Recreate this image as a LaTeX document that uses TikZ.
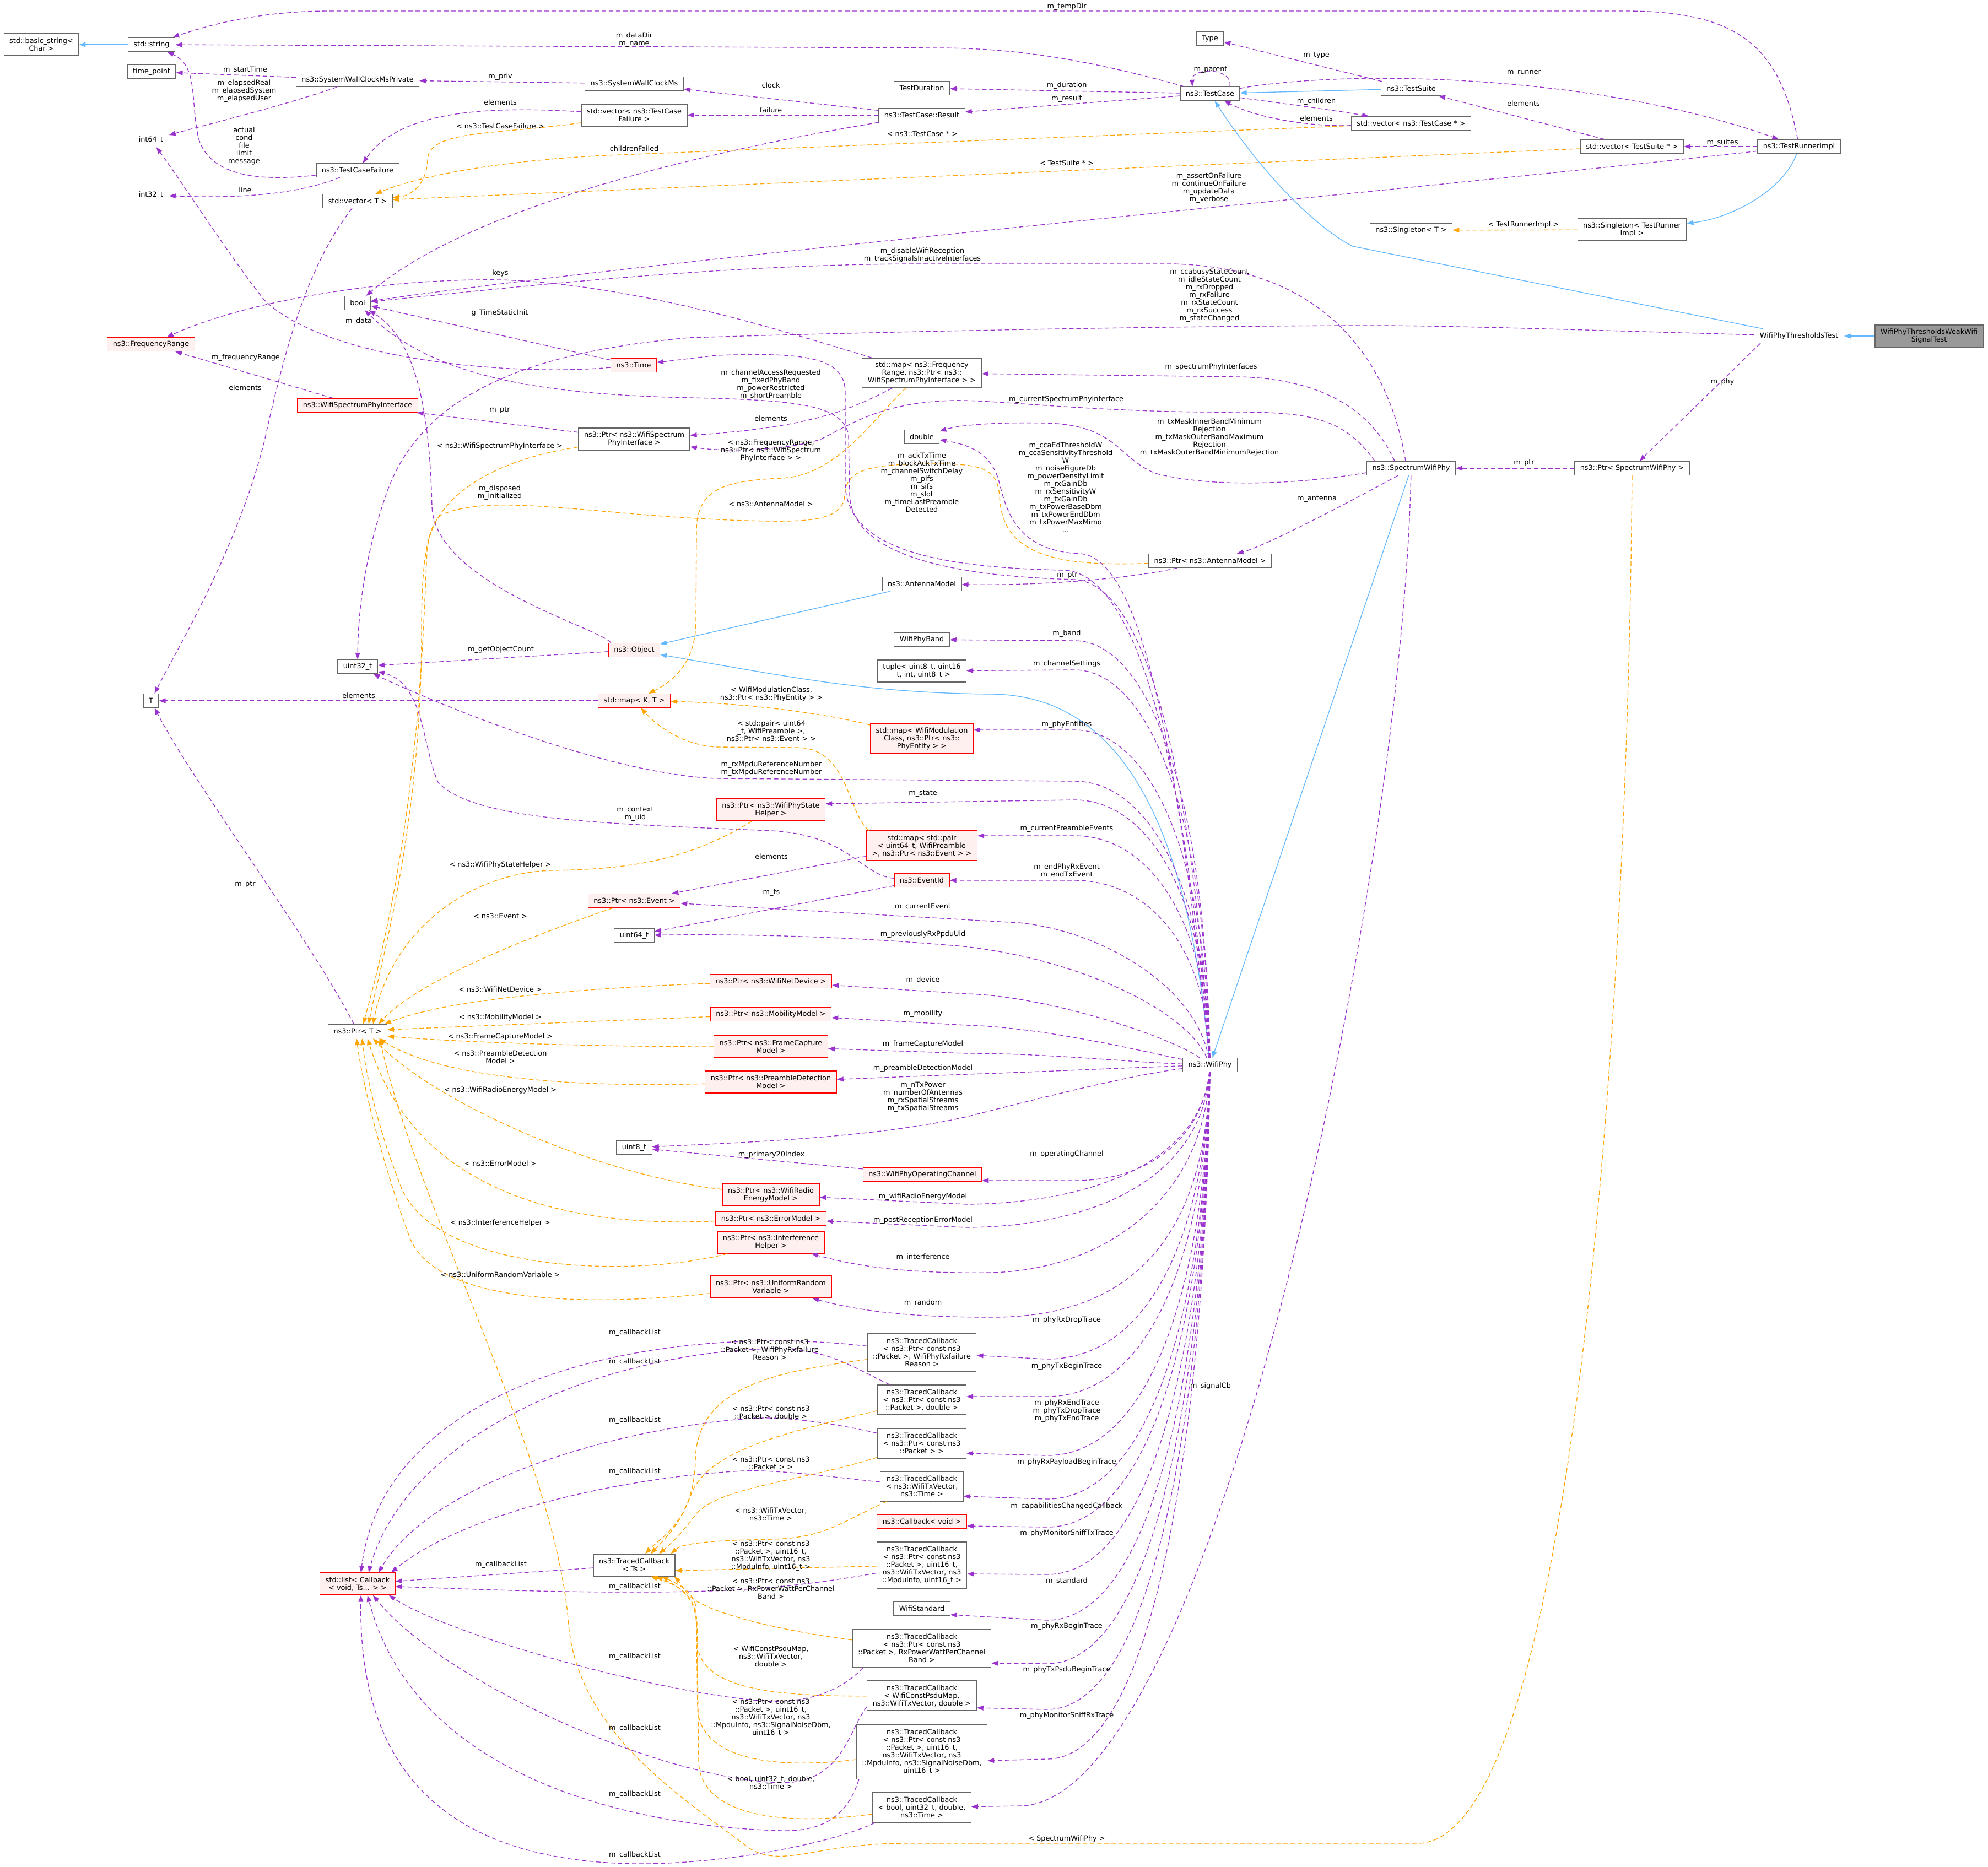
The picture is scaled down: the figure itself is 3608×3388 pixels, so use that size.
\documentclass[tikz,border=0pt]{standalone}
\usepackage{fontspec}
\setmainfont{DejaVu Sans}
\usetikzlibrary{arrows.meta,calc}
\definecolor{purp}{HTML}{9A32CD}
\definecolor{orng}{HTML}{FFA500}
\definecolor{blu}{HTML}{63B8FF}
\definecolor{boxgray}{HTML}{666666}
\definecolor{redfill}{HTML}{FFF0F0}
\definecolor{grayfill}{HTML}{999999}
\newcommand\dfnt{\fontsize{9.6}{10.5}\selectfont}
\tikzset{
  box/.style={draw=boxgray, fill=white, line width=0.9pt, inner xsep=7.5pt, inner ysep=0pt, font=\dfnt, align=center, minimum height=18.75pt},
  redbox/.style={box, draw=red, fill=redfill},
  graybox/.style={box, fill=grayfill},
  h2/.style={minimum height=30pt},
  h3/.style={minimum height=40.5pt},
  h4/.style={minimum height=51.75pt},
  h5/.style={minimum height=63pt},
  h6/.style={minimum height=74.25pt},
  mem/.style={draw=purp, line width=1pt, dash pattern=on 6pt off 3.75pt, -{Triangle[length=9pt,width=6.5pt]}},
  tmpl/.style={draw=orng, line width=1pt, dash pattern=on 6pt off 3.75pt, -{Triangle[length=9pt,width=6.5pt]}},
  inh/.style={draw=blu, line width=1pt, -{Triangle[length=9pt,width=6.5pt]}},
  lab/.style={font=\dfnt, align=center, inner sep=0pt, text=black},
}
\begin{document}
\begin{tikzpicture}[x=0.75pt,y=-0.75pt]
\fill[white] (0,0) rectangle (3608,3388);
\useasboundingbox (0,0) rectangle (3608,3388);

% ---------------- nodes ----------------
\node[box,h2] (basicstring) at (75,81) {std::basic\_string<\\Char >};
\node[box] (stdstring) at (275,81) {std::string};
\node[box] (timepoint) at (275,130) {time\_point};
\node[box] (int64) at (274,254) {int64\_t};
\node[box] (int32) at (274,354) {int32\_t};
\node[redbox] (freqrange) at (274,625) {ns3::FrequencyRange};
\node[box] (T) at (274,1272) {T};
\node[box] (syswallpriv) at (649,145) {ns3::SystemWallClockMsPrivate};
\node[box] (tcfailure) at (649,309) {ns3::TestCaseFailure};
\node[box] (vectorT) at (649,365) {std::vector< T >};
\node[box] (bool) at (649,550) {bool};
\node[redbox] (wifispecphyif) at (649,736) {ns3::WifiSpectrumPhyInterface};
\node[box] (uint32) at (649,1210) {uint32\_t};
\node[box] (ptrT) at (649,1872) {ns3::Ptr< T >};
\node[redbox,h2] (stdlist) at (649,2875) {std::list< Callback\\< void, Ts... > >};
\node[box] (syswall) at (1151,152) {ns3::SystemWallClockMs};
\node[box,h2] (vecfailure) at (1151,209) {std::vector< ns3::TestCase\\Failure >};
\node[redbox] (time) at (1150,663) {ns3::Time};
\node[box,h2] (ptrwifispecif) at (1151,797) {ns3::Ptr< ns3::WifiSpectrum\\PhyInterface >};
\node[redbox] (object) at (1151,1180) {ns3::Object};
\node[redbox] (mapKT) at (1151,1272) {std::map< K, T >};
\node[redbox] (ptrevent) at (1151,1635) {ns3::Ptr< ns3::Event >};
\node[box] (uint64) at (1151,1698) {uint64\_t};
\node[box] (uint8) at (1151,2083) {uint8\_t};
\node[box,h2] (tcTs) at (1151,2841) {ns3::TracedCallback\\< Ts >};
\node[redbox,h2] (ptrstatehelper) at (1399,1470) {ns3::Ptr< ns3::WifiPhyState\\Helper >};
\node[redbox] (ptrnetdevice) at (1399,1781) {ns3::Ptr< ns3::WifiNetDevice >};
\node[redbox] (ptrmobility) at (1399,1841) {ns3::Ptr< ns3::MobilityModel >};
\node[redbox,h2] (ptrframecap) at (1399,1900) {ns3::Ptr< ns3::FrameCapture\\Model >};
\node[redbox,h2] (ptrpreamble) at (1399,1964) {ns3::Ptr< ns3::PreambleDetection\\Model >};
\node[redbox,h2] (ptrenergy) at (1399,2169) {ns3::Ptr< ns3::WifiRadio\\EnergyModel >};
\node[redbox] (ptrerror) at (1399,2212) {ns3::Ptr< ns3::ErrorModel >};
\node[redbox,h2] (ptrinterf) at (1399,2255) {ns3::Ptr< ns3::Interference\\Helper >};
\node[redbox,h2] (ptrrandom) at (1399,2336) {ns3::Ptr< ns3::UniformRandom\\Variable >};
\node[box] (testduration) at (1673,160) {TestDuration};
\node[box] (tcresult) at (1673,209) {ns3::TestCase::Result};
\node[box,h3] (mapfreq) at (1673,677) {std::map< ns3::Frequency\\Range, ns3::Ptr< ns3::\\WifiSpectrumPhyInterface > >};
\node[box] (double) at (1673,793) {double};
\node[box] (antennamodel) at (1673,1060) {ns3::AntennaModel};
\node[box] (wifiphyband) at (1673,1161) {WifiPhyBand};
\node[box,h2] (tuple) at (1673,1218) {tuple< uint8\_t, uint16\\\_t, int, uint8\_t >};
\node[redbox,h3] (mapmod) at (1673,1341) {std::map< WifiModulation\\Class, ns3::Ptr< ns3::\\PhyEntity > >};
\node[redbox,h3] (mappair) at (1673,1535) {std::map< std::pair\\< uint64\_t, WifiPreamble\\ >, ns3::Ptr< ns3::Event > >};
\node[redbox] (eventid) at (1673,1598) {ns3::EventId};
\node[redbox] (operchannel) at (1674,2132) {ns3::WifiPhyOperatingChannel};
\node[box,h4] (tcrxfail) at (1673,2455) {ns3::TracedCallback\\< ns3::Ptr< const ns3\\::Packet >, WifiPhyRxfailure\\Reason >};
\node[box,h3] (tcdouble) at (1673,2541) {ns3::TracedCallback\\< ns3::Ptr< const ns3\\::Packet >, double >};
\node[box,h3] (tcpacket) at (1673,2620) {ns3::TracedCallback\\< ns3::Ptr< const ns3\\::Packet > >};
\node[box,h3] (tctxvec) at (1673,2698) {ns3::TracedCallback\\< ns3::WifiTxVector,\\ns3::Time >};
\node[redbox] (cbvoid) at (1673,2762) {ns3::Callback< void >};
\node[box,h5] (tcmpdu) at (1673,2841) {ns3::TracedCallback\\< ns3::Ptr< const ns3\\::Packet >, uint16\_t,\\ns3::WifiTxVector, ns3\\::MpduInfo, uint16\_t >};
\node[box] (wifistandard) at (1673,2920) {WifiStandard};
\node[box,h4] (tcrxpower) at (1673,2992) {ns3::TracedCallback\\< ns3::Ptr< const ns3\\::Packet >, RxPowerWattPerChannel\\Band >};
\node[box,h3] (tcpsdu) at (1673,3078) {ns3::TracedCallback\\< WifiConstPsduMap,\\ns3::WifiTxVector, double >};
\node[box,h6] (tcsnr) at (1673,3180) {ns3::TracedCallback\\< ns3::Ptr< const ns3\\::Packet >, uint16\_t,\\ns3::WifiTxVector, ns3\\::MpduInfo, ns3::SignalNoiseDbm,\\uint16\_t >};
\node[box,h3] (tcbool) at (1673,3281) {ns3::TracedCallback\\< bool, uint32\_t, double,\\ns3::Time >};
\node[box] (type) at (2196,70) {Type};
\node[box] (testcase) at (2196,170) {ns3::TestCase};
\node[box] (ptrantenna) at (2196,1018) {ns3::Ptr< ns3::AntennaModel >};
\node[box] (wifiphy) at (2196,1933) {ns3::WifiPhy};
\node[box] (testsuite) at (2561,161) {ns3::TestSuite};
\node[box] (vectc) at (2561,224) {std::vector< ns3::TestCase * >};
\node[box] (singletonT) at (2561,418) {ns3::Singleton< T >};
\node[box] (spectrumwifiphy) at (2561,850) {ns3::SpectrumWifiPhy};
\node[box] (vecsuite) at (2962,266) {std::vector< TestSuite * >};
\node[box,h2] (singletonTR) at (2962,417) {ns3::Singleton< TestRunner\\Impl >};
\node[box] (ptrspectrum) at (2962,850) {ns3::Ptr< SpectrumWifiPhy >};
\node[box] (testrunner) at (3265,266) {ns3::TestRunnerImpl};
\node[box] (thresholdtest) at (3265,610) {WifiPhyThresholdsTest};
\node[graybox,h2] (weaktest) at (3501,610) {WifiPhyThresholdsWeakWifi\\SignalTest};

% ---------------- top area edges ----------------
\draw[inh] (stdstring) -- (basicstring);
\draw[mem] (testrunner) .. controls (3230,80) and (3150,20) .. (2950,20) -- (600,20) .. controls (470,20) and (380,45) .. (stdstring);
\draw[mem] (testcase) .. controls (1980,110) and (1850,87) .. (1700,87) -- (stdstring);
\draw[mem] (syswallpriv) -- (timepoint);
\draw[mem] (syswallpriv) .. controls (520,190) and (380,225) .. (int64);
\draw[mem] (syswall) -- (syswallpriv);
\draw[mem] (tcfailure) .. controls (470,330) and (380,320) .. (360,250) .. controls (345,180) and (360,120) .. (stdstring);
\draw[mem] (tcfailure) .. controls (560,345) and (470,362) .. (int32);
\draw[mem] (vecfailure) .. controls (850,190) and (720,210) .. (tcfailure);
\draw[tmpl] (vecfailure) .. controls (900,245) and (778,235) .. (776,290) .. controls (775,330) and (750,355) .. (vectorT);
\draw[tmpl] (vectc) -- (1100,282) .. controls (900,292) and (760,320) .. (vectorT);
\draw[tmpl] (vecsuite) -- (vectorT);
\draw[mem] (vectorT) .. controls (560,480) and (520,620) .. (480,800) .. controls (430,1000) and (320,1180) .. (T);
\draw[mem] (tcresult) -- (syswall);
\draw[mem] (tcresult) -- (vecfailure);
\draw[mem] (tcresult) .. controls (1250,280) and (850,380) .. (bool);
\draw[mem] (testcase) -- (testduration);
\draw[mem] (testcase) -- (tcresult);
\draw[mem] ($(testcase.north)+(36,0)$) .. controls (2238,122) and (2162,122) .. ($(testcase.north)+(-32,0)$);
\draw[mem] (testsuite) -- (type);
\draw[inh] (testsuite) -- (testcase);
\draw[mem] (testcase) .. controls (2330,188) and (2420,200) .. (vectc);
\draw[mem] (vectc) .. controls (2390,230) and (2290,218) .. (testcase);
\draw[mem] (testcase) .. controls (2450,125) and (2900,135) .. (testrunner);
\draw[mem] (vecsuite) -- (testsuite);
\draw[mem] (testrunner) -- (vecsuite);
\draw[mem] (testrunner) .. controls (2500,350) and (1200,470) .. (bool);
\draw[inh] (testrunner) .. controls (3240,340) and (3150,395) .. (singletonTR);
\draw[tmpl] (singletonTR) -- (singletonT);
\draw[inh] (thresholdtest) -- (2455,447) .. controls (2400,420) and (2300,330) .. (testcase);
\draw[inh] (weaktest) -- (thresholdtest);
\draw[mem] (thresholdtest) .. controls (2800,597) and (2600,590) .. (2450,591) .. controls (2000,593) and (1500,605) .. (1250,613) .. controls (950,640) and (760,720) .. (700,900) .. controls (665,1000) and (650,1100) .. (uint32);
\draw[mem] ($(thresholdtest.south)+(-70,0)$) -- (ptrspectrum);
\draw[mem] (ptrspectrum) -- (spectrumwifiphy);
\draw[tmpl] (ptrspectrum) .. controls (2955,1800) and (2860,3346) .. (2572,3346) -- (1643,3346) .. controls (1480,3346) and (1420,3392) .. (1360,3355) .. controls (1250,3270) and (1050,3150) .. (1032,2950) .. controls (1010,2650) and (760,2200) .. ($(ptrT.south)+(40,0)$);

% ---------------- SpectrumWifiPhy ----------------
\draw[inh] (spectrumwifiphy) -- (wifiphy);
\draw[mem] ($(spectrumwifiphy.north)+(-30,0)$) .. controls (2490,745) and (2400,688) .. (2250,684) -- (mapfreq);
\draw[mem] ($(spectrumwifiphy.west)+(0,8)$) .. controls (2350,880) and (2200,885) .. (2100,860) .. controls (2030,835) and (2030,772) .. (1900,768) .. controls (1800,766) and (1740,772) .. (double);
\draw[mem] ($(spectrumwifiphy.north west)+(15,0)$) .. controls (2440,760) and (2380,748) .. (2245,748) .. controls (2000,750) and (1800,725) .. (1731,727) .. controls (1600,730) and (1545,770) .. (1490,797) .. controls (1440,815) and (1330,822) .. (ptrwifispecif);
\draw[mem] (spectrumwifiphy) .. controls (2470,900) and (2300,990) .. (ptrantenna);
\draw[mem] ($(spectrumwifiphy.north)+(-10,0)$) .. controls (2520,650) and (2400,485) .. (2128,479) -- (1672,479) .. controls (1300,479) and (900,525) .. (bool);
\draw[mem] (spectrumwifiphy) .. controls (2545,1600) and (2200,3278) .. (1850,3278) -- (tcbool);

% ---------------- antenna / object ----------------
\draw[mem] (ptrantenna) .. controls (2050,1050) and (1900,1063) .. (antennamodel);
\draw[tmpl] (ptrantenna) .. controls (1900,1030) and (1818,1000) .. (1814,900) .. controls (1810,850) and (1780,842) .. (1700,842) .. controls (1580,842) and (1535,850) .. (1533,900) .. controls (1530,940) and (1480,947) .. (1400,946) .. controls (1100,942) and (900,890) .. (800,935) .. controls (770,960) and (765,1050) .. (765,1150) .. controls (765,1500) and (690,1750) .. ($(ptrT.north)+(20,0)$);
\draw[inh] (antennamodel) -- (object);
\draw[inh] (wifiphy) .. controls (2160,1550) and (2060,1262) .. (1800,1260) .. controls (1580,1258) and (1450,1232) .. (object);
\draw[mem] (wifiphy) .. controls (2170,1500) and (2100,1062) .. (1950,1052) .. controls (1700,1045) and (1548,1000) .. (1542,900) -- (1540,790) .. controls (1530,735) and (1450,726) .. (1250,722) .. controls (1000,716) and (790,690) .. (bool);
\draw[mem] (wifiphy) .. controls (2160,1500) and (2085,1040) .. (1930,1035) .. controls (1680,1030) and (1538,990) .. (1534,880) -- (1534,710) .. controls (1532,645) and (1450,640) .. (1300,645) -- (time);
\draw[mem] (wifiphy) .. controls (2150,1500) and (2090,1012) .. (1960,1005) .. controls (1840,1000) and (1825,920) .. (1812,870) .. controls (1795,815) and (1745,805) .. (double);

% ---------------- maps / ptrs ----------------
\draw[mem] (mapfreq) .. controls (1420,600) and (1150,515) .. (908,508) .. controls (700,505) and (450,545) .. (freqrange);
\draw[mem] (mapfreq) .. controls (1550,740) and (1480,775) .. (ptrwifispecif);
\draw[tmpl] (mapfreq) .. controls (1585,760) and (1520,862) .. (1420,868) .. controls (1320,872) and (1266,885) .. (1264,960) -- (1263,1130) .. controls (1262,1200) and (1225,1235) .. (mapKT);
\draw[mem] (ptrwifispecif) -- (wifispecphyif);
\draw[tmpl] (ptrwifispecif) .. controls (920,830) and (785,890) .. (775,1000) .. controls (768,1150) and (760,1500) .. ($(ptrT.north)+(10,0)$);
\draw[mem] (wifispecphyif) -- (freqrange);
\draw[mem] (time) -- (bool);
\draw[mem] (time) .. controls (950,682) and (600,660) .. (480,545) .. controls (420,470) and (330,330) .. (int64);
\draw[mem] (object) -- (uint32);
\draw[mem] ($(object.north west)+(5,0)$) .. controls (1090,1140) and (790,1060) .. (784,920) .. controls (780,760) and (760,620) .. (bool);
\draw[mem] (mapKT) -- (T);
\draw[tmpl] (mapmod) .. controls (1500,1295) and (1350,1276) .. (mapKT);
\draw[tmpl] ($(mappair.north west)+(5,0)$) .. controls (1540,1480) and (1540,1360) .. (1450,1357) -- (1300,1356) .. controls (1240,1352) and (1195,1320) .. (mapKT);
\draw[mem] (mappair) -- (ptrevent);
\draw[mem] (eventid) .. controls (1565,1590) and (1540,1515) .. (1400,1508) .. controls (1100,1495) and (860,1490) .. (795,1420) .. controls (765,1350) and (770,1240) .. (uint32);
\draw[mem] (eventid) -- (uint64);
\draw[mem] (ptrT) .. controls (560,1700) and (350,1420) .. (T);
\draw[tmpl] (ptrstatehelper) .. controls (1250,1560) and (1150,1578) .. (1000,1580) .. controls (850,1585) and (710,1690) .. ($(ptrT.north)+(28,0)$);
\draw[tmpl] (ptrevent) .. controls (960,1700) and (760,1780) .. ($(ptrT.north)+(38,0)$);
\draw[tmpl] (ptrnetdevice) .. controls (1100,1792) and (820,1810) .. ($(ptrT.north east)+(-5,0)$);
\draw[tmpl] (ptrmobility) -- ($(ptrT.east)+(0,-3)$);
\draw[tmpl] (ptrframecap) .. controls (1100,1900) and (850,1893) .. ($(ptrT.east)+(0,9)$);
\draw[tmpl] (ptrpreamble) .. controls (1000,1975) and (790,1950) .. ($(ptrT.south east)+(-15,0)$);
\draw[tmpl] (ptrenergy) .. controls (1100,2135) and (800,2010) .. ($(ptrT.south)+(28,0)$);
\draw[tmpl] (ptrerror) .. controls (1000,2230) and (750,2150) .. ($(ptrT.south)+(18,0)$);
\draw[tmpl] (ptrinterf) .. controls (1150,2320) and (800,2310) .. (730,2160) .. controls (690,2060) and (665,1960) .. ($(ptrT.south)+(8,0)$);
\draw[tmpl] (ptrrandom) .. controls (1100,2368) and (800,2375) .. (745,2250) .. controls (700,2130) and (660,1980) .. ($(ptrT.south)+(-2,0)$);
\draw[mem] (operchannel) -- (uint8);

% ---------------- traced callbacks ----------------
\draw[mem] (tcrxfail) .. controls (1200,2400) and (700,2500) .. ($(stdlist.north)+(6,0)$);
\draw[mem] (tcdouble) .. controls (1540,2478) and (1500,2447) .. (1400,2448) .. controls (1100,2455) and (740,2600) .. ($(stdlist.north)+(20,0)$);
\draw[mem] (tcpacket) .. controls (1520,2585) and (1420,2568) .. (1348,2576) .. controls (1150,2590) and (790,2680) .. ($(stdlist.north)+(38,0)$);
\draw[mem] (tctxvec) .. controls (1500,2680) and (1420,2668) .. (1348,2670) .. controls (1150,2680) and (850,2740) .. ($(stdlist.north east)+(-8,0)$);
\draw[mem] (tcTs) -- (stdlist);
\draw[mem] (tcmpdu) .. controls (1450,2880) and (1350,2890) .. (1152,2890) .. controls (950,2890) and (800,2882) .. ($(stdlist.east)+(0,5)$);
\draw[mem] ($(tcrxpower.south west)+(20,0)$) .. controls (1520,3075) and (1460,3090) .. (1393,3088) .. controls (1200,3075) and (820,2970) .. ($(stdlist.south east)+(-12,0)$);
\draw[mem] ($(tcpsdu.west)+(0,20)$) .. controls (1540,3140) and (1530,3235) .. (1420,3236) .. controls (1200,3232) and (800,3050) .. ($(stdlist.south)+(28,0)$);
\draw[mem] ($(tcsnr.south west)+(5,0)$) .. controls (1540,3290) and (1500,3325) .. (1420,3323) .. controls (1200,3318) and (760,3250) .. ($(stdlist.south)+(18,0)$);
\draw[mem] ($(tcbool.south west)+(5,0)$) .. controls (1500,3350) and (1300,3385) .. (1150,3383) .. controls (850,3378) and (650,3250) .. ($(stdlist.south)+(6,0)$);

\draw[tmpl] (tcrxfail) .. controls (1400,2490) and (1265,2520) .. (1262,2650) .. controls (1260,2760) and (1200,2790) .. ($(tcTs.north)+(20,0)$);
\draw[tmpl] (tcdouble) .. controls (1430,2600) and (1290,2630) .. (1255,2710) .. controls (1235,2770) and (1200,2800) .. ($(tcTs.north)+(30,0)$);
\draw[tmpl] (tcpacket) .. controls (1450,2690) and (1300,2700) .. (1262,2750) .. controls (1240,2780) and (1220,2800) .. ($(tcTs.north)+(45,0)$);
\draw[tmpl] (tctxvec) .. controls (1530,2760) and (1500,2792) .. (1400,2794) .. controls (1300,2796) and (1240,2800) .. ($(tcTs.north east)+(-8,0)$);
\draw[tmpl] (tcmpdu) -- ($(tcTs.east)+(0,10)$);
\draw[tmpl] (tcrxpower) .. controls (1450,2965) and (1300,2935) .. (1255,2900) .. controls (1240,2885) and (1232,2870) .. ($(tcTs.south east)+(-2,0)$);
\draw[tmpl] (tcpsdu) .. controls (1350,3080) and (1268,3050) .. (1265,2980) -- (1263,2920) .. controls (1262,2890) and (1230,2875) .. ($(tcTs.south)+(50,0)$);
\draw[tmpl] (tcsnr) .. controls (1350,3218) and (1268,3170) .. (1266,3100) -- (1264,2950) .. controls (1263,2900) and (1235,2880) .. ($(tcTs.south)+(40,0)$);
\draw[tmpl] (tcbool) .. controls (1380,3320) and (1272,3280) .. (1268,3200) -- (1265,2950) .. controls (1264,2900) and (1240,2880) .. ($(tcTs.south)+(30,0)$);

% ---------------- WifiPhy members (upper) ----------------
\draw[mem] (wifiphy) .. controls (2188,1428) and (2080,1163) .. (1950,1163) -- (wifiphyband);
\draw[mem] (wifiphy) .. controls (2188,1462) and (2080,1216) .. (1950,1216) -- (tuple);
\draw[mem] (wifiphy) .. controls (2188,1533) and (2080,1325) .. (1950,1325) -- ($(mapmod.east)+(0,-16)$);
\draw[mem] (wifiphy) .. controls (2188,1600) and (2080,1418) .. (1950,1418) -- (1300,1413) .. controls (1100,1405) and (800,1280) .. (uint32);
\draw[mem] (wifiphy) .. controls (2188,1616) and (2080,1452) .. (1950,1452) -- ($(ptrstatehelper.east)+(0,-11)$);
\draw[mem] (wifiphy) .. controls (2188,1658) and (2080,1517) .. (1950,1517) -- ($(mappair.east)+(0,-18)$);
\draw[mem] (wifiphy) .. controls (2188,1711) and (2080,1598) .. (1950,1598) -- (eventid);
\draw[mem] (wifiphy) .. controls (2170,1790) and (2000,1690) .. (1850,1675) -- (ptrevent);
\draw[mem] (wifiphy) .. controls (2150,1830) and (1950,1740) .. (1750,1718) .. controls (1550,1700) and (1350,1695) .. (uint64);
\draw[mem] (wifiphy) .. controls (2120,1880) and (1900,1808) .. (1755,1804) -- (ptrnetdevice);
\draw[mem] (wifiphy) .. controls (2090,1912) and (1900,1865) .. (1755,1861) -- (ptrmobility);
\draw[mem] (wifiphy) .. controls (2050,1928) and (1900,1912) .. (1755,1912) -- (ptrframecap);
\draw[mem] (wifiphy) .. controls (2000,1940) and (1850,1947) .. (1755,1950) -- (ptrpreamble);
\draw[mem] (wifiphy) .. controls (2050,1952) and (1900,1990) .. (1755,2027) .. controls (1600,2062) and (1400,2072) .. (uint8);

% ---------------- WifiPhy members (lower) ----------------
\draw[mem] (wifiphy) .. controls (2185,2050) and (2100,2143) .. (1950,2143) -- ($(operchannel.east)+(0,11)$);
\draw[mem] (wifiphy) .. controls (2180,2100) and (2000,2183) .. (1755,2186) -- (ptrenergy);
\draw[mem] (wifiphy) .. controls (2182,2130) and (2000,2226) .. (1755,2228) -- (ptrerror);
\draw[mem] (wifiphy) .. controls (2185,2180) and (2000,2305) .. (1800,2310) .. controls (1650,2312) and (1560,2300) .. (ptrinterf);
\draw[mem] (wifiphy) .. controls (2188,2250) and (2050,2391) .. (1800,2391) .. controls (1650,2391) and (1560,2380) .. (ptrrandom);
\draw[mem] (wifiphy) .. controls (2188,2206) and (2100,2467) .. (1900,2467) -- (tcrxfail);
\draw[mem] (wifiphy) .. controls (2188,2240) and (2100,2535) .. (1900,2535) -- ($(tcdouble.east)+(0,-6)$);
\draw[mem] (wifiphy) .. controls (2188,2294) and (2100,2642) .. (1900,2642) -- ($(tcpacket.east)+(0,18)$);
\draw[mem] (wifiphy) .. controls (2188,2333) and (2100,2721) .. (1900,2721) -- ($(tctxvec.east)+(0,18)$);
\draw[mem] (wifiphy) .. controls (2188,2359) and (2100,2772) .. (1900,2772) -- ($(cbvoid.east)+(0,8)$);
\draw[mem] (wifiphy) .. controls (2188,2402) and (2100,2858) .. (1900,2858) -- ($(tcmpdu.east)+(0,16)$);
\draw[mem] (wifiphy) .. controls (2188,2443) and (2100,2941) .. (1900,2941) -- ($(wifistandard.east)+(0,11)$);
\draw[mem] (wifiphy) .. controls (2188,2483) and (2100,3020) .. (1900,3020) -- ($(tcrxpower.east)+(0,27)$);
\draw[mem] (wifiphy) .. controls (2188,2524) and (2100,3103) .. (1900,3103) -- ($(tcpsdu.east)+(0,22)$);
\draw[mem] (wifiphy) .. controls (2188,2570) and (2100,3193) .. (1900,3193) -- ($(tcsnr.east)+(0,16)$);

% ---------------- labels ----------------
\node[lab] (l1) at (1936,12) {m\_tempDir};
\node[lab] (l2) at (1151,72) {m\_dataDir\\m\_name};
\node[lab] (l3) at (445,127) {m\_startTime};
\node[lab] (l4) at (908,139) {m\_priv};
\node[lab] (l5) at (443,165) {m\_elapsedReal\\m\_elapsedSystem\\m\_elapsedUser};
\node[lab] (l6) at (1399,155) {clock};
\node[lab] (l7) at (1936,155) {m\_duration};
\node[lab] (l8) at (2197,127) {m\_parent};
\node[lab] (l9) at (1936,179) {m\_result};
\node[lab] (l10) at (1399,200) {failure};
\node[lab] (l11) at (908,186) {elements};
\node[lab] (l12) at (908,229) {< ns3::TestCaseFailure >};
\node[lab] (l13) at (443,265) {actual\\cond\\file\\limit\\message};
\node[lab] (l14) at (445,345) {line};
\node[lab] (l15) at (1674,243) {< ns3::TestCase * >};
\node[lab] (l16) at (1151,270) {childrenFailed};
\node[lab] (l17) at (1936,296) {< TestSuite * >};
\node[lab] (l18) at (2389,101) {m\_type};
\node[lab] (l19) at (2766,132) {m\_runner};
\node[lab] (l20) at (2389,184) {m\_children};
\node[lab] (l21) at (2389,215) {elements};
\node[lab] (l22) at (2765,188) {elements};
\node[lab] (l23) at (3126,259) {m\_suites};
\node[lab] (l24) at (2194,341) {m\_assertOnFailure\\m\_continueOnFailure\\m\_updateData\\m\_verbose};
\node[lab] (l25) at (2765,408) {< TestRunnerImpl >};
\node[lab] (l26) at (1674,463) {m\_disableWifiReception\\m\_trackSignalsInactiveInterfaces};
\node[lab] (l27) at (908,496) {keys};
\node[lab] (l28) at (2195,536) {m\_ccabusyStateCount\\m\_idleStateCount\\m\_rxDropped\\m\_rxFailure\\m\_rxStateCount\\m\_rxSuccess\\m\_stateChanged};
\node[lab] (l29) at (907,568) {g\_TimeStaticInit};
\node[lab] (l30) at (651,583) {m\_data};
\node[lab] (l31) at (446,649) {m\_frequencyRange};
\node[lab] (l32) at (3126,693) {m\_phy};
\node[lab] (l33) at (2198,666) {m\_spectrumPhyInterfaces};
\node[lab] (l34) at (1399,698) {m\_channelAccessRequested\\m\_fixedPhyBand\\m\_powerRestricted\\m\_shortPreamble};
\node[lab] (l35) at (445,704) {elements};
\node[lab] (l36) at (1935,725) {m\_currentSpectrumPhyInterface};
\node[lab] (l37) at (907,745) {m\_ptr};
\node[lab] (l38) at (1399,760) {elements};
\node[lab] (l39) at (2195,794) {m\_txMaskInnerBandMinimum\\Rejection\\m\_txMaskOuterBandMaximum\\Rejection\\m\_txMaskOuterBandMinimumRejection};
\node[lab] (l40) at (907,810) {< ns3::WifiSpectrumPhyInterface >};
\node[lab] (l41) at (1399,818) {< ns3::FrequencyRange,\\ns3::Ptr< ns3::WifiSpectrum\\PhyInterface > >};
\node[lab] (l42) at (2766,841) {m\_ptr};
\node[lab] (l43) at (1673,876) {m\_ackTxTime\\m\_blockAckTxTime\\m\_channelSwitchDelay\\m\_pifs\\m\_sifs\\m\_slot\\m\_timeLastPreamble\\Detected};
\node[lab] (l44) at (1934,885) {m\_ccaEdThresholdW\\m\_ccaSensitivityThreshold\\W\\m\_noiseFigureDb\\m\_powerDensityLimit\\m\_rxGainDb\\m\_rxSensitivityW\\m\_txGainDb\\m\_txPowerBaseDbm\\m\_txPowerEndDbm\\m\_txPowerMaxMimo\\...};
\node[lab] (l45) at (907,894) {m\_disposed\\m\_initialized};
\node[lab] (l46) at (2390,905) {m\_antenna};
\node[lab] (l47) at (1399,915) {< ns3::AntennaModel >};
\node[lab] (l48) at (1937,1044) {m\_ptr};
\node[lab] (l49) at (1936,1150) {m\_band};
\node[lab] (l50) at (909,1179) {m\_getObjectCount};
\node[lab] (l51) at (1936,1205) {m\_channelSettings};
\node[lab] (l52) at (651,1263) {elements};
\node[lab] (l53) at (1400,1260) {< WifiModulationClass,\\ns3::Ptr< ns3::PhyEntity > >};
\node[lab] (l54) at (1936,1315) {m\_phyEntities};
\node[lab] (l55) at (1400,1327) {< std::pair< uint64\\\_t, WifiPreamble >,\\ns3::Ptr< ns3::Event > >};
\node[lab] (l56) at (1400,1395) {m\_rxMpduReferenceNumber\\m\_txMpduReferenceNumber};
\node[lab] (l57) at (1675,1440) {m\_state};
\node[lab] (l58) at (1153,1477) {m\_context\\m\_uid};
\node[lab] (l59) at (1936,1504) {m\_currentPreambleEvents};
\node[lab] (l60) at (1400,1555) {elements};
\node[lab] (l61) at (908,1570) {< ns3::WifiPhyStateHelper >};
\node[lab] (l62) at (1936,1581) {m\_endPhyRxEvent\\m\_endTxEvent};
\node[lab] (l63) at (445,1605) {m\_ptr};
\node[lab] (l64) at (1400,1620) {m\_ts};
\node[lab] (l65) at (1675,1646) {m\_currentEvent};
\node[lab] (l66) at (908,1663) {< ns3::Event >};
\node[lab] (l67) at (1675,1696) {m\_previouslyRxPpduUid};
\node[lab] (l68) at (1675,1779) {m\_device};
\node[lab] (l69) at (908,1796) {< ns3::WifiNetDevice >};
\node[lab] (l70) at (1675,1840) {m\_mobility};
\node[lab] (l71) at (908,1847) {< ns3::MobilityModel >};
\node[lab] (l72) at (908,1882) {< ns3::FrameCaptureModel >};
\node[lab] (l73) at (1675,1895) {m\_frameCaptureModel};
\node[lab] (l74) at (908,1919) {< ns3::PreambleDetection\\Model >};
\node[lab] (l75) at (1675,1939) {m\_preambleDetectionModel};
\node[lab] (l76) at (908,1979) {< ns3::WifiRadioEnergyModel >};
\node[lab] (l77) at (1675,1991) {m\_nTxPower\\m\_numberOfAntennas\\m\_rxSpatialStreams\\m\_txSpatialStreams};
\node[lab] (l78) at (1936,2095) {m\_operatingChannel};
\node[lab] (l79) at (1400,2096) {m\_primary20Index};
\node[lab] (l80) at (908,2112) {< ns3::ErrorModel >};
\node[lab] (l81) at (1675,2172) {m\_wifiRadioEnergyModel};
\node[lab] (l82) at (1675,2215) {m\_postReceptionErrorModel};
\node[lab] (l83) at (908,2220) {< ns3::InterferenceHelper >};
\node[lab] (l84) at (1675,2282) {m\_interference};
\node[lab] (l85) at (908,2314) {< ns3::UniformRandomVariable >};
\node[lab] (l86) at (1675,2365) {m\_random};
\node[lab] (l87) at (1936,2396) {m\_phyRxDropTrace};
\node[lab] (l88) at (1152,2419) {m\_callbackList};
\node[lab] (l89) at (1397,2450) {< ns3::Ptr< const ns3\\::Packet >, WifiPhyRxfailure\\Reason >};
\node[lab] (l90) at (1152,2472) {m\_callbackList};
\node[lab] (l91) at (1936,2480) {m\_phyTxBeginTrace};
\node[lab] (l92) at (2197,2516) {m\_signalCb};
\node[lab] (l93) at (1936,2561) {m\_phyRxEndTrace\\m\_phyTxDropTrace\\m\_phyTxEndTrace};
\node[lab] (l94) at (1399,2564) {< ns3::Ptr< const ns3\\::Packet >, double >};
\node[lab] (l95) at (1152,2578) {m\_callbackList};
\node[lab] (l96) at (1936,2654) {m\_phyRxPayloadBeginTrace};
\node[lab] (l97) at (1399,2656) {< ns3::Ptr< const ns3\\::Packet > >};
\node[lab] (l98) at (1152,2671) {m\_callbackList};
\node[lab] (l99) at (1936,2734) {m\_capabilitiesChangedCallback};
\node[lab] (l100) at (1399,2749) {< ns3::WifiTxVector,\\ns3::Time >};
\node[lab] (l101) at (1936,2783) {m\_phyMonitorSniffTxTrace};
\node[lab] (l102) at (1399,2824) {< ns3::Ptr< const ns3\\::Packet >, uint16\_t,\\ns3::WifiTxVector, ns3\\::MpduInfo, uint16\_t >};
\node[lab] (l103) at (909,2840) {m\_callbackList};
\node[lab] (l104) at (1936,2870) {m\_standard};
\node[lab] (l105) at (1152,2880) {m\_callbackList};
\node[lab] (l106) at (1399,2884) {< ns3::Ptr< const ns3\\::Packet >, RxPowerWattPerChannel\\Band >};
\node[lab] (l107) at (1936,2952) {m\_phyRxBeginTrace};
\node[lab] (l108) at (1399,3007) {< WifiConstPsduMap,\\ns3::WifiTxVector,\\double >};
\node[lab] (l109) at (1152,3007) {m\_callbackList};
\node[lab] (l110) at (1936,3031) {m\_phyTxPsduBeginTrace};
\node[lab] (l111) at (1936,3114) {m\_phyMonitorSniffRxTrace};
\node[lab] (l112) at (1399,3118) {< ns3::Ptr< const ns3\\::Packet >, uint16\_t,\\ns3::WifiTxVector, ns3\\::MpduInfo, ns3::SignalNoiseDbm,\\uint16\_t >};
\node[lab] (l113) at (1152,3137) {m\_callbackList};
\node[lab] (l114) at (1399,3236) {< bool, uint32\_t, double,\\ns3::Time >};
\node[lab] (l115) at (1152,3257) {m\_callbackList};
\node[lab] (l116) at (1936,3338) {< SpectrumWifiPhy >};
\node[lab] (l117) at (1152,3367) {m\_callbackList};
\end{tikzpicture}
\end{document}
